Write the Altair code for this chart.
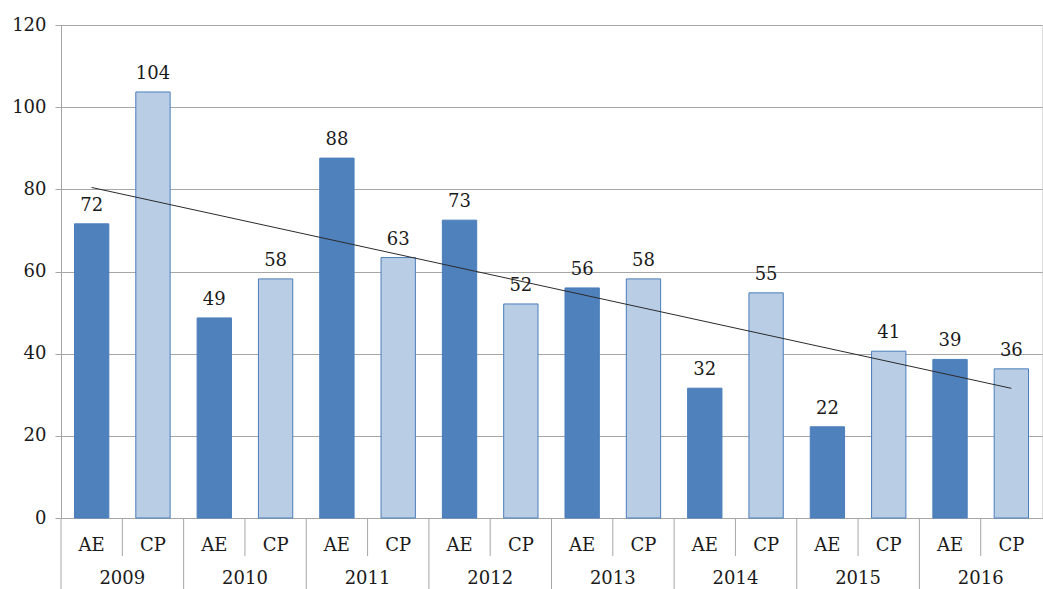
import altair as alt
import pandas as pd
import numpy as np

years = ["2009", "2010", "2011", "2012", "2013", "2014", "2015", "2016"]
series = ["AE", "CP"]
ae_values = [71.6, 48.7, 87.6, 72.5, 56.0, 31.6, 22.2, 38.6]
cp_values = [103.7, 58.2, 63.4, 52.1, 58.2, 54.8, 40.6, 36.3]
y_ticks = [0, 20, 40, 60, 80, 100, 120]

rows = []
for i, y in enumerate(years):
    rows.append({"cat": f"{y}-AE", "year": y, "series": "AE", "value": ae_values[i]})
    rows.append({"cat": f"{y}-CP", "year": y, "series": "CP", "value": cp_values[i]})
df = pd.DataFrame(rows)
order = list(df["cat"])

# linear trend line through all 16 bars
idx = np.arange(len(df))
slope, intercept = np.polyfit(idx, df["value"].values, 1)
trend = pd.DataFrame({"cat": [order[0], order[-1]],
                      "value": [intercept, intercept + slope * (len(df) - 1)]})

W, H = 981, 493
FONT = "DejaVu Serif"
FS = 18
GRID = "#A6A6A6"
TXT = "#1a1a1a"

xscale = alt.Scale(domain=order, paddingInner=0, paddingOuter=0)
yscale = alt.Scale(domain=[0, 120], nice=False)

base = alt.Chart(df)

bars = base.mark_bar(stroke="#4A7EBB", strokeWidth=1,
                     width=alt.RelativeBandSize(0.56)).encode(
    x=alt.X("cat:N", scale=xscale, sort=order,
            axis=alt.Axis(labels=False, ticks=False, title=None, domain=True,
                          domainColor=GRID, domainWidth=1)),
    y=alt.Y("value:Q", scale=yscale,
            axis=alt.Axis(values=y_ticks, title=None, grid=True, gridColor=GRID,
                          gridWidth=1, domainColor=GRID, tickColor=GRID, tickSize=6,
                          labelFont=FONT, labelFontSize=FS, labelColor=TXT,
                          labelPadding=9)),
    color=alt.Color("series:N", scale=alt.Scale(domain=series, range=["#4F81BD", "#B9CDE5"]),
                    legend=None),
)

value_labels = base.mark_text(baseline="bottom", dy=-9, font=FONT, fontSize=FS,
                              color=TXT).encode(
    x=alt.X("cat:N", scale=xscale, sort=order),
    y=alt.Y("value:Q", scale=yscale),
    text=alt.Text("value:Q", format=".0f"),
)

trend_line = alt.Chart(trend).mark_line(color="#2b2b2b", strokeWidth=1).encode(
    x=alt.X("cat:N", scale=xscale, sort=order),
    y=alt.Y("value:Q", scale=yscale),
)

series_labels = base.mark_text(baseline="middle", font=FONT, fontSize=FS,
                               color=TXT).encode(
    x=alt.X("cat:N", scale=xscale, sort=order),
    y=alt.value(H + 28),
    text="series:N",
)

ae_only = base.transform_filter(alt.datum.series == "AE")
cp_only = base.transform_filter(alt.datum.series == "CP")

year_labels = ae_only.mark_text(baseline="middle", font=FONT, fontSize=FS,
                                color=TXT).encode(
    x=alt.X("cat:N", scale=xscale, sort=order, bandPosition=1),
    y=alt.value(H + 61),
    text="year:N",
)

year_seps = ae_only.mark_rule(color=GRID, strokeWidth=1).encode(
    x=alt.X("cat:N", scale=xscale, sort=order, bandPosition=0),
    y=alt.value(H),
    y2=alt.value(H + 71),
)

series_seps = cp_only.mark_rule(color=GRID, strokeWidth=1).encode(
    x=alt.X("cat:N", scale=xscale, sort=order, bandPosition=0),
    y=alt.value(H),
    y2=alt.value(H + 38),
)

chart = alt.layer(bars, trend_line, value_labels, series_labels, year_labels,
                  year_seps, series_seps).properties(
    width=W, height=H,
    autosize=alt.AutoSizeParams(type="none"),
    padding={"left": 61, "top": 25, "right": 1, "bottom": 71},
).configure_view(stroke=None).configure(background="white", font=FONT)

chart.save("out.html", embed_options={"renderer": "svg", "actions": False})
